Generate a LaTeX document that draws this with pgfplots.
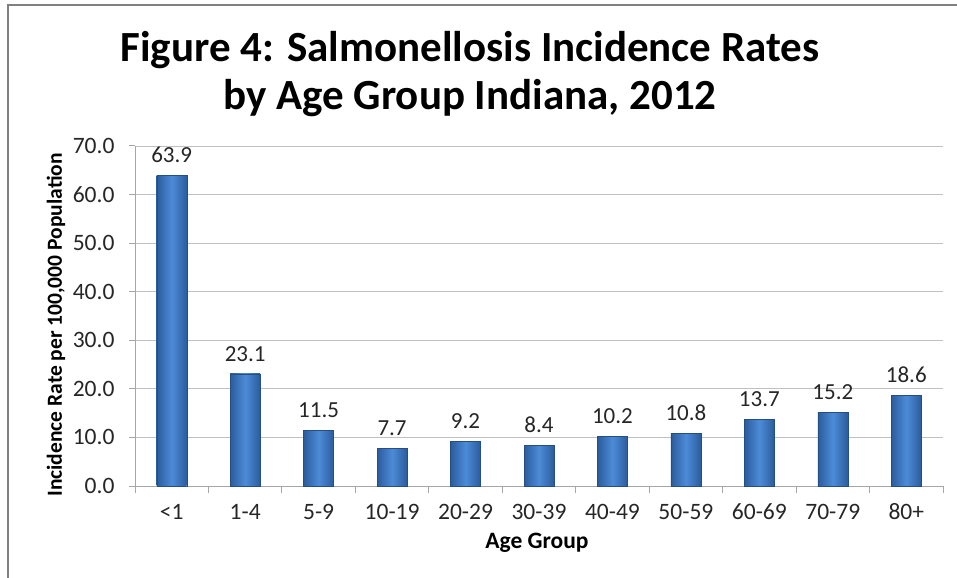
\documentclass[border=0pt]{standalone}
\usepackage{fontspec}
\setmainfont{Carlito}
\usepackage{pgfplots}
\pgfplotsset{compat=1.18}
\definecolor{barmid}{HTML}{4D8BD8}
\definecolor{baredge}{HTML}{2B5C9C}
\definecolor{gridc}{HTML}{C0C0C0}
\definecolor{axc}{HTML}{A6A6A6}
\pgfplotsset{mybar/.style={bar shift=0pt, draw=baredge!85!black, line width=0.4pt,
    left color=baredge, right color=baredge, middle color=barmid}}
\begin{document}
\begin{tikzpicture}
\path[use as bounding box] (-135bp,-92bp) rectangle (822bp,486bp);
\begin{axis}[
    scale only axis,
    width=808bp, height=340bp,
    at={(0,0)}, anchor=south west,
    xmin=-0.5, xmax=10.5,
    ymin=0, ymax=70,
    ytick distance=10,
    axis lines*=left,
    axis line style={axc, line width=1pt},
    every outer x axis line/.append style={-},
    every outer y axis line/.append style={-},
    ymajorgrids,
    major grid style={gridc, line width=0.8pt},
    xtick={0,...,10},
    xticklabels={<1,1-4,5-9,10-19,20-29,30-39,40-49,50-59,60-69,70-79,80+},
    major x tick style={draw=none},
    minor xtick={-0.5,0.5,...,10.5},
    minor x tick style={axc, line width=1pt},
    minor tick length=7bp,
    major tick length=6bp,
    ytick style={axc, line width=1pt},
    tick align=outside,
    tick label style={font=\fontsize{23.5bp}{26bp}\selectfont, text=black!85},
    xticklabel style={anchor=center, yshift=-20bp},
    yticklabel style={xshift=-11bp, /pgf/number format/fixed, /pgf/number format/fixed zerofill, /pgf/number format/precision=1},
    /pgf/number format/assume math mode=true,
    ybar, bar width=30bp,
    nodes near coords,
    nodes near coords style={font=\fontsize{23bp}{26bp}\selectfont, text=black!85, /pgf/number format/fixed, /pgf/number format/fixed zerofill, /pgf/number format/precision=1, /pgf/number format/assume math mode=true, yshift=9bp},
    clip=false,
]
\addplot[mybar] coordinates {(0,63.9)};
\addplot[mybar] coordinates {(1,23.1)};
\addplot[mybar] coordinates {(2,11.5)};
\addplot[mybar] coordinates {(3,7.7)};
\addplot[mybar] coordinates {(4,9.2)};
\addplot[mybar] coordinates {(5,8.4)};
\addplot[mybar] coordinates {(6,10.2)};
\addplot[mybar] coordinates {(7,10.8)};
\addplot[mybar] coordinates {(8,13.7)};
\addplot[mybar] coordinates {(9,15.2)};
\addplot[mybar] coordinates {(10,18.6)};
\end{axis}
\draw[gray, line width=2bp] (-127bp,-92bp) -- (-127bp,481bp) -- (822bp,481bp);
\node[align=center, font=\fontsize{43bp}{48bp}\selectfont\bfseries] at (335bp,412bp) {Figure 4: Salmonellosis Incidence Rates\\by Age Group Indiana, 2012};
\node[font=\fontsize{23.5bp}{26bp}\selectfont\bfseries] at (402bp,-57bp) {Age Group};
\node[rotate=90, font=\fontsize{21.5bp}{24bp}\selectfont\bfseries] at (-79bp,161bp) {Incidence Rate per 100,000 Population};
\end{tikzpicture}
\end{document}
